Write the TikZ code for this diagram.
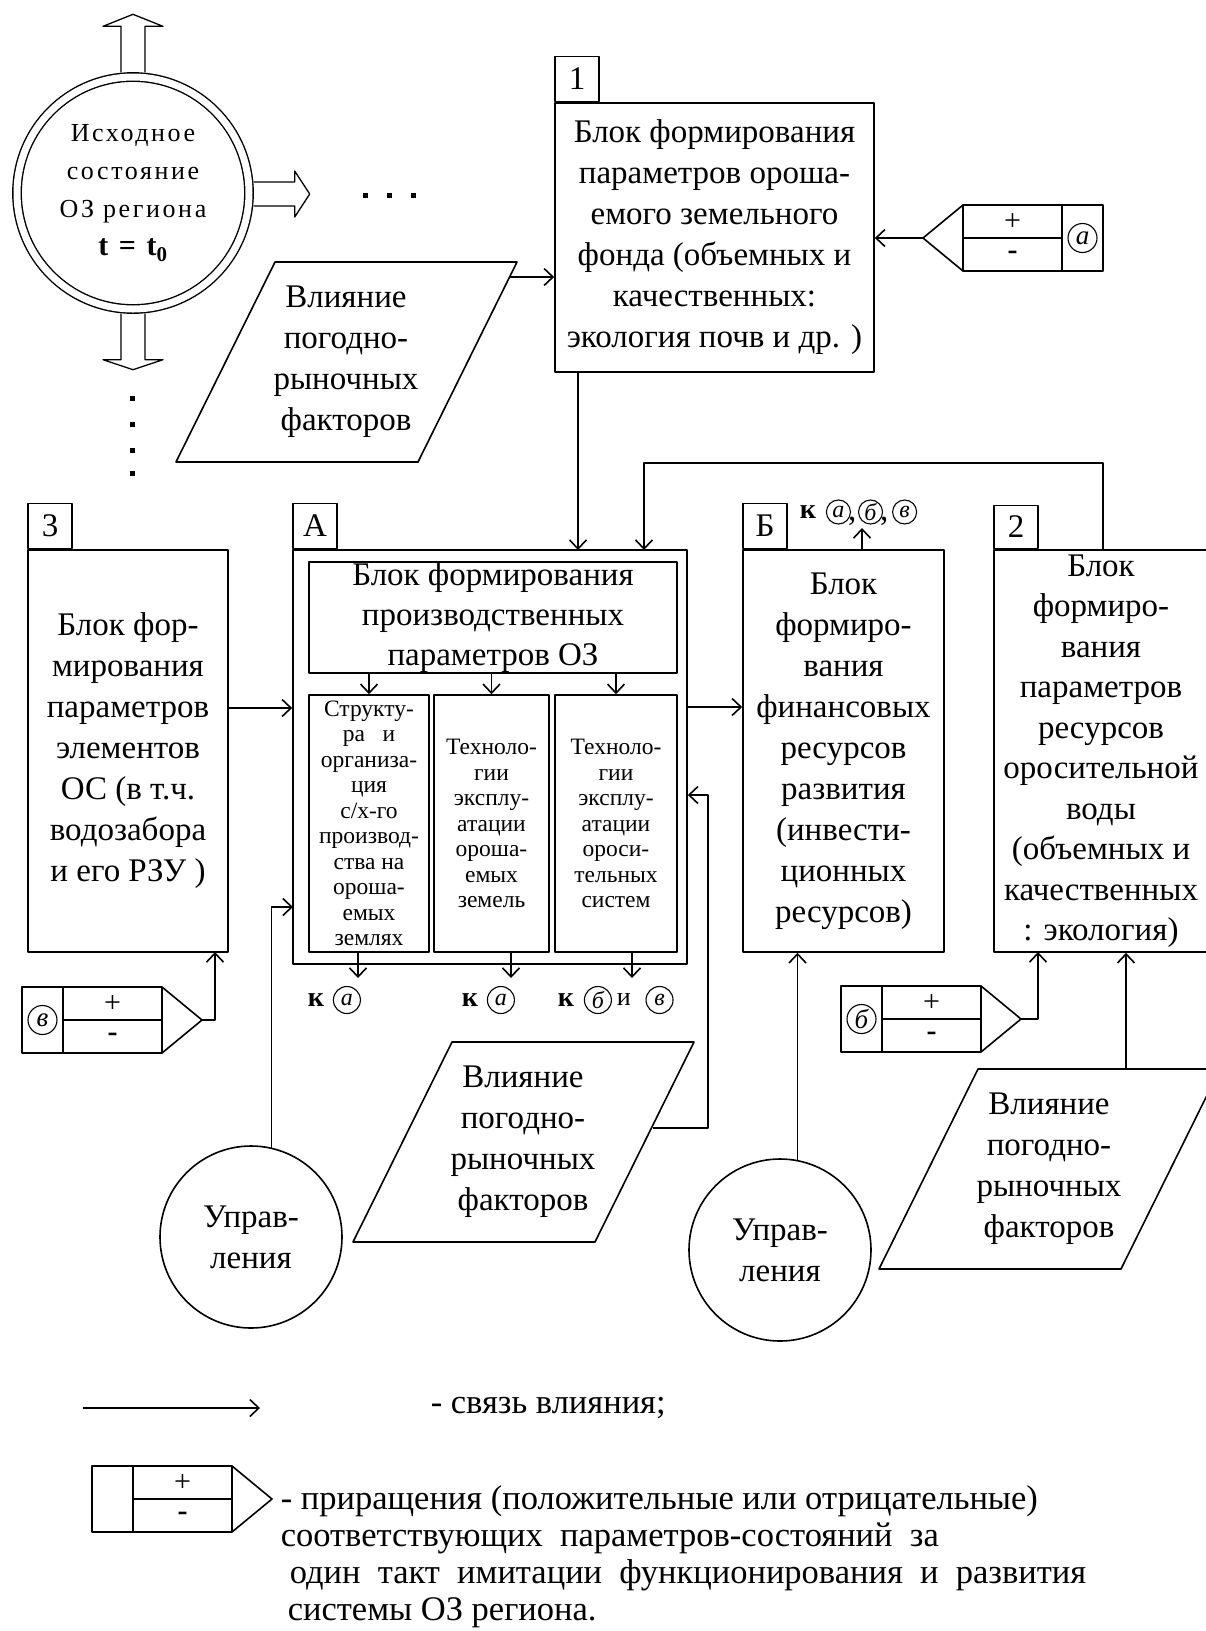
\documentclass[tikz,border=0pt]{standalone}
\usepackage{fontspec}
\setmainfont{Liberation Serif}
\usetikzlibrary{arrows.meta,positioning}
\begin{document}
\begin{tikzpicture}[x=1pt,y=-1pt,line width=1.6pt,line join=round,
  >={Straight Barb[length=9pt,width=17pt]},
  font=\fontsize{33}{41}\selectfont,
  blk/.style={draw,align=center,inner sep=0pt},
  lbl/.style={draw,anchor=south west,minimum width=44pt,minimum height=45pt,inner sep=0pt},
  sub/.style={draw,align=center,inner sep=0pt,minimum height=257pt,font=\fontsize{23.5}{25.5}\selectfont},
  kk/.style={inner sep=0pt,font=\fontsize{28}{28}\selectfont\bfseries},
  krug/.style={draw,circle,line width=1.1pt,inner sep=0pt,minimum size=27pt,font=\fontsize{24}{24}\selectfont\itshape},
  pm/.style={inner sep=0pt,font=\fontsize{30}{30}\selectfont},
  incr/.pic={
    \draw (-180,-33) rectangle (-40,33);
    \draw (-139,-33) -- (-139,33) (-139,0) -- (-40,0);
    \draw (-40,-33) -- (0,0) -- (-40,33);
    \coordinate (-tip) at (0,0);
    \coordinate (-cell) at (-159.5,0);
    \node[pm] (-p) at (-89.5,-16) {+};
    \node[pm] (-m) at (-89.5,17) {\textbf{-}};
  }]
\useasboundingbox (0,0) rectangle (1206,1631);
\node[draw,circle,double,double distance=7pt,line width=1.4pt,minimum size=232pt,inner sep=0pt,align=center,
  font=\fontsize{26}{38}\selectfont\addfontfeatures{LetterSpace=10}] (st) at (133,193)
  {Исходное\\состояние\\ОЗ региона\\{\fontsize{30}{38}\selectfont\bfseries t = t\textsubscript{0}}};
\draw[line width=1.3pt] (st.north) ++(-12,-4) -- ++(0,-46) -- ++(-18,0) -- ++(30,-12) -- ++(30,12) -- ++(-18,0) -- ++(0,46);
\draw[line width=1.3pt] (st.south) ++(-12,4) -- ++(0,46) -- ++(-18,0) -- ++(30,10) -- ++(30,-10) -- ++(-18,0) -- ++(0,-46);
\draw[line width=1.3pt] (st.east) ++(4,-11) -- ++(41,0) -- ++(0,-11) -- ++(15,23) -- ++(-15,23) -- ++(0,-11) -- ++(-41,0);
\foreach \y in {398,424,450,473} \fill (132,\y) +(-2.5,-2.5) rectangle +(2.5,2.5);
\foreach \x in {365,389,413} \fill (\x,195) +(-2.5,-2.5) rectangle +(2.5,2.5);
\node[blk,minimum width=319pt,minimum height=269pt] (b1) at (714.5,237.5)
  {Блок формирования\\параметров ороша-\\емого земельного\\фонда (объемных и\\качественных:\\экология почв и др. )};
\node[lbl] (n1) at (b1.north west) {1};
\node[blk,minimum width=200pt,minimum height=402pt] (b3) at (128,751)
  {Блок фор-\\мирования\\параметров\\элементов\\ОС (в т.ч.\\водозабора\\и его РЗУ )};
\node[lbl] (n3) at (b3.north west) {3};
\node[blk,minimum width=394pt,minimum height=414pt] (A) at (490,757) {};
\node[lbl] (nA) at (A.north west) {А};
\node[blk,minimum width=368pt,minimum height=111pt,font=\fontsize{33}{40}\selectfont] (Atop) at (493,617.5)
  {Блок формирования\\производственных\\параметров ОЗ};
\node[sub,minimum width=120pt] (s1) at (369,823.5)
  {Структу-\\ра\ \ \ и\\организа-\\ция\\с/х-го\\производ-\\ства на\\ороша-\\емых\\землях};
\node[sub,minimum width=115pt] (s2) at (491.5,823.5)
  {Техноло-\\гии\\эксплу-\\атации\\ороша-\\емых\\земель};
\node[sub,minimum width=122pt] (s3) at (616,823.5)
  {Техноло-\\гии\\эксплу-\\атации\\ороси-\\тельных\\систем};
\foreach \s in {s1,s2,s3} \draw[->] (\s.north |- Atop.south) -- (\s.north);
\node[blk,minimum width=201pt,minimum height=402pt] (bB) at (843.5,751)
  {Блок\\формиро-\\вания\\финансовых\\ресурсов\\развития\\(инвести-\\ционных\\ресурсов)};
\node[lbl] (nB) at (bB.north west) {Б};
\node[blk,minimum width=214pt,minimum height=402pt,font=\fontsize{33}{40.5}\selectfont] (b2) at (1101,751)
  {Блок\\формиро-\\вания\\параметров\\ресурсов\\оросительной\\воды\\(объемных и\\качественных\\: экология)};
\node[lbl,minimum height=43pt] (n2) at (b2.north west) {2};
\foreach \n/\x/\y in {p1/346/362,p2/523/1142,p3/1049/1169}{
  \draw (\x-71,\y-100) -- (\x+171,\y-100) -- (\x+72,\y+100) -- (\x-170,\y+100) -- cycle;
  \node[align=center,inner sep=0pt] (\n) at (\x,\y) {Влияние\\погодно-\\рыночных\\факторов};
}
\foreach \n/\x/\y in {u1/251/1237,u2/780/1250}
  \node[draw,circle,minimum size=182pt,inner sep=0pt,align=center] (\n) at (\x,\y) {Управ-\\ления};
\node[kk] (k1) at (316,1000) {к};
\node[krug,right=8pt of k1] (k1a) {a};
\node[kk] (k2) at (470,1000) {к};
\node[krug,right=8pt of k2] (k2a) {a};
\node[kk] (k3) at (566,1000) {к};
\node[krug,right=9pt of k3] (k3b) {б};
\node[inner sep=0pt,font=\fontsize{26}{26}\selectfont,right=4pt of k3b] (k3i) {и};
\node[krug,right=14pt of k3i] (k3v) {в};
\node[kk] (kB) at (808,512) {к};
\node[krug,minimum size=24pt,right=9pt of kB] (kBa) {a};
\node[inner sep=0pt,right=0pt of kBa.south east] (kc1) {,};
\node[krug,minimum size=24pt,right=7pt of kBa] (kBb) {б};
\node[inner sep=0pt,right=0pt of kBb.south east] (kc2) {,};
\node[krug,minimum size=24pt,right=9pt of kBb] (kBv) {в};
\coordinate (q1) at (510,277);
\draw[->] (q1) -- (q1 -| b1.west);
\coordinate (a1) at (578,550);
\draw[->] (a1 |- b1.south) -- (a1);
\pic[xscale=-1] (incA) at (923,238) {incr};
\node[krug,minimum size=29pt,font=\fontsize{27}{27}\selectfont\itshape] (lA) at (incA-cell) {a};
\draw[->] (incA-tip) -- (incA-tip -| b1.east);
\coordinate (t2) at (1103,463);
\coordinate (a2) at (644,550);
\draw[->] (t2 |- b2.north) -- (t2) -| (a2);
\coordinate (c3) at (228,708);
\draw[->] (c3) -- (c3 -| A.west);
\coordinate (cA) at (687,707);
\draw[->] (cA) -- (cA -| bB.west);
\coordinate (ub) at (862,528);
\draw[->] (ub |- bB.north) -- (ub);
\coordinate (cu1) at (293,907);
\draw[->] (u1.77) |- (cu1);
\draw[->] (u2.79) -- (u2.79 |- bB.south);
\coordinate (q2) at (653,1128);
\coordinate (r2) at (708,795);
\draw[->] (q2) -| (r2) -- (r2 -| A.east);
\coordinate (q3) at (1126,1070);
\draw[->] (q3) -- (q3 |- b2.south);
\pic (incB) at (1021,1019) {incr};
\node[krug,minimum size=29pt,font=\fontsize{27}{27}\selectfont\itshape] (lB) at (incB-cell) {б};
\coordinate (v2) at (1038,952);
\draw[->] (incB-tip) -| (v2);
\pic (incV) at (202,1020) {incr};
\node[krug,minimum size=29pt,font=\fontsize{27}{27}\selectfont\itshape] (lV) at (incV-cell) {в};
\coordinate (v3) at (215,952);
\draw[->] (incV-tip) -| (v3);
\foreach \s/\x in {s1/358,s2/511,s3/632}{
  \coordinate (d\s) at (\x,978);
  \draw[->] (d\s |- \s.south) -- (d\s);
}
\coordinate (la) at (83,1408);
\coordinate (lb) at (260,1408);
\draw[->] (la) -- (lb);
\node[anchor=west,inner sep=0pt,font=\fontsize{34.5}{37}\selectfont] (lt1) at (430,1408) {- связь влияния;};
\pic (incL) at (272,1499) {incr};
\node[anchor=north west,align=left,inner sep=0pt,font=\fontsize{34.5}{37}\selectfont] (lt2) at (280,1485)
  {- приращения (положительные или отрицательные)\\соответствующих\ \ параметров-состояний\ \ за\\
  \hspace{9pt}один\ \ такт\ \ имитации\ \ функционирования\ \ и\ \ развития\\\hspace{7pt}системы ОЗ региона.};
\end{tikzpicture}
\end{document}
